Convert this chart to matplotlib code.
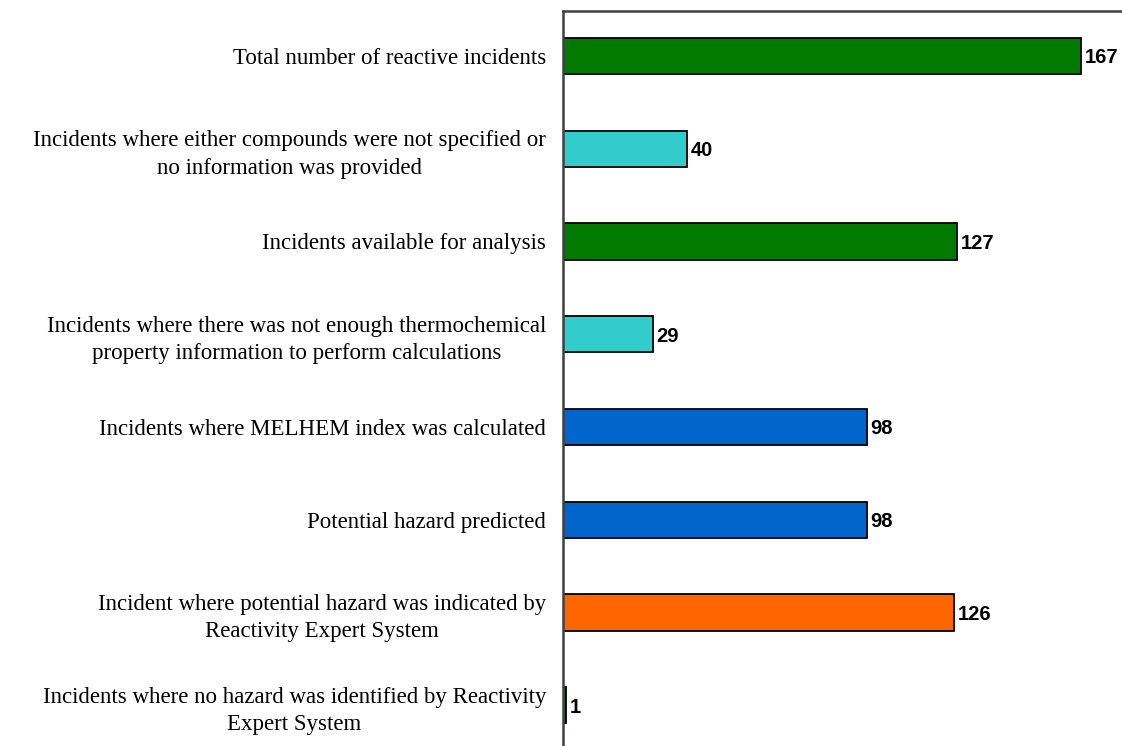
import matplotlib.pyplot as plt
import numpy as np

labels = [
    "Total number of reactive incidents",
    "Incidents where either compounds were not specified or\nno information was provided",
    "Incidents available for analysis",
    "Incidents where there was not enough thermochemical\nproperty information to perform calculations",
    "Incidents where MELHEM index was calculated",
    "Potential hazard predicted",
    "Incident where potential hazard was indicated by\nReactivity Expert System",
    "Incidents where no hazard was identified by Reactivity\nExpert System",
]
values = [167, 40, 127, 29, 98, 98, 126, 1]
colors = ["#007A00", "#33CCCC", "#007A00", "#33CCCC",
          "#0066CC", "#0066CC", "#FF6600", "#007A00"]

W, H = 1122, 746
fig = plt.figure(figsize=(W / 100, H / 100), dpi=100)
# axes from x=563 px to right edge, y from 11 px (top) to bottom edge
ax = fig.add_axes([563 / W, 0, 1 - 563 / W, (H - 11) / H])

pos = np.arange(len(values))
ax.barh(pos, values, height=0.39, color=colors, edgecolor="black", linewidth=1.3)

ax.set_ylim(7.44, -0.485)
ax.set_xlim(0, 559 / 3.1)

for sp in ["right", "bottom"]:
    ax.spines[sp].set_visible(False)
for sp in ["top", "left"]:
    ax.spines[sp].set_color("#404040")
    ax.spines[sp].set_linewidth(1.8)

ax.set_xticks([])
ax.set_yticks(pos)
ax.set_yticklabels(labels, family="Liberation Serif", fontsize=16.5,
                   multialignment="center", linespacing=1.4)
ax.tick_params(axis="y", length=0, pad=12)

for p, v in zip(pos, values):
    ax.text(v + 1.2, p + 0.02, str(v), va="center", ha="left", fontsize=14.5,
            fontweight="bold", family="Liberation Sans")

fig.savefig("out.png", dpi=100)
